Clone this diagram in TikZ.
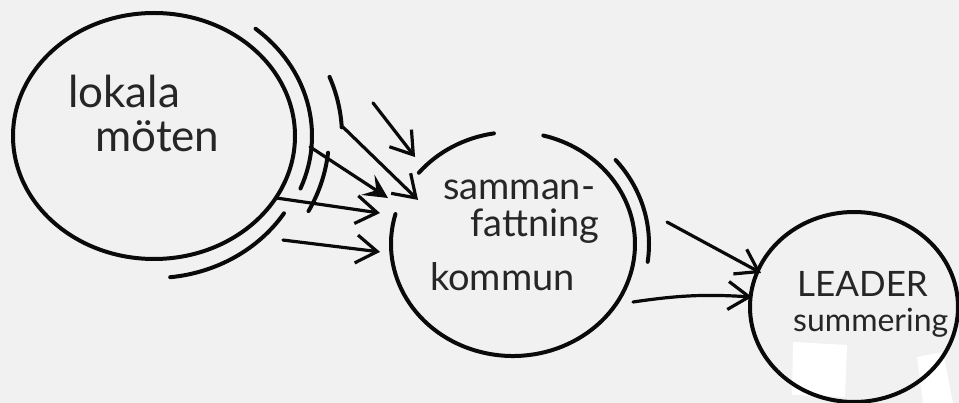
\documentclass[tikz,border=0pt]{standalone}
\usepackage{fontspec}
\setmainfont{Lato}
\usepackage{xcolor}
\definecolor{papper}{RGB}{241,241,241}
\definecolor{blyerts}{RGB}{10,10,10}
\definecolor{skrift}{RGB}{38,38,38}
\usetikzlibrary{arrows.meta,shapes.geometric}

\begin{document}
\begin{tikzpicture}[x=1pt,y=-1pt,
  ring/.style={ellipse,inner sep=0pt,draw=blyerts,line width=4pt},
  penna/.style={draw=blyerts,line width=4pt,line cap=round},
  pil/.style={penna,line width=3.2pt,-{Straight Barb[length=21pt,width=28pt]}},
  tjockpil/.style={penna,line width=3.2pt,-{Stealth[length=24pt,width=24pt,inset=10pt]}},
  ord/.style={anchor=base west,inner sep=0pt,text=skrift},
]
  \fill[papper] (0,0) rectangle (959,403);
  \useasboundingbox (0,0) rectangle (959,403);

  % vita flackar i papperet
  \fill[white] (793,342) -- (847,345) -- (845,397) -- (792,395) -- cycle;
  \fill[white] (917,357) -- (943,352) -- (953,403) -- (923,403) -- cycle;

  % cirklarna
  \node[ring,minimum width=282pt,minimum height=246pt](mote) at (154,136) {};
  \node[ring,draw=none,minimum width=244pt,minimum height=224pt](kommun) at (513,244) {};
  \node[ring,minimum width=208pt,minimum height=190pt](leader) at (854,307) {};

  \draw[penna] ([shift={(-195.5:122pt and 112pt)}]kommun.center)
    arc[start angle=-195.5,end angle=75.6,x radius=122pt,y radius=112pt];
  \draw[penna] ([shift={(140.5:122pt and 112pt)}]kommun.center)
    arc[start angle=140.5,end angle=99,x radius=122pt,y radius=112pt];

  % extra streck runt cirklarna
  \draw[penna] ([shift={(50:158pt and 140pt)}]mote.center)
    arc[start angle=50,end angle=-22,x radius=158pt,y radius=140pt];
  \draw[penna] ([shift={(21:188pt and 165pt)}]mote.center)
    arc[start angle=21,end angle=3,x radius=188pt,y radius=165pt];
  \draw[penna] ([shift={(-6:175pt and 160pt)}]mote.center)
    arc[start angle=-6,end angle=-28,x radius=175pt,y radius=160pt];
  \draw[penna] ([shift={(-33:155pt and 142pt)}]mote.center)
    arc[start angle=-33,end angle=-84,x radius=155pt,y radius=142pt];
  \draw[penna] ([shift={(41:136pt and 128pt)}]kommun.center)
    arc[start angle=41,end angle=-8,x radius=136pt,y radius=128pt];

  % texter
  \node[ord,font=\fontsize{44}{44}\selectfont](lokala) at (68,108) {lokala};
  \node[ord,font=\fontsize{44}{44}\selectfont](moten) at (95,152) {möten};
  \node[ord,font=\fontsize{38}{38}\selectfont](samman) at (443,200) {samman-};
  \node[ord,font=\fontsize{38}{38}\selectfont](fattning) at (470,237) {fattning};
  \node[ord,font=\fontsize{38}{38}\selectfont](kommuntxt) at (430,291) {kommun};
  \node[ord,font=\fontsize{35}{35}\selectfont](leadertxt) at (797,297) {LEADER};
  \node[ord,font=\fontsize{32}{32}\selectfont](summering) at (793,332) {summering};

  % pilar
  \draw[tjockpil] ([shift={(-4:156.4pt)}]mote.center) -- ([shift={(159.8:133.2pt)}]kommun.center);
  \draw[pil] ([shift={(-26.8:137.7pt)}]mote.center) -- ([shift={(166.9:136.6pt)}]kommun.center);
  \draw[pil] ([shift={(-38.9:165.7pt)}]mote.center) -- ([shift={(-176.6:133.2pt)}]kommun.center);
  \draw[pil] ([shift={(2.7:189.2pt)}]mote.center) -- ([shift={(155.1:104.7pt)}]kommun.center);
  \draw[pil] ([shift={(8.6:221.5pt)}]mote.center) -- ([shift={(138.4:131pt)}]kommun.center);
  \draw[pil] ([shift={(8.1:155.6pt)}]kommun.center) -- ([shift={(159.9:99pt)}]leader.center);
  \draw[pil] ([shift={(-25.8:133.3pt)}]kommun.center) to[bend left=6] ([shift={(174.4:102.5pt)}]leader.center);
\end{tikzpicture}
\end{document}
